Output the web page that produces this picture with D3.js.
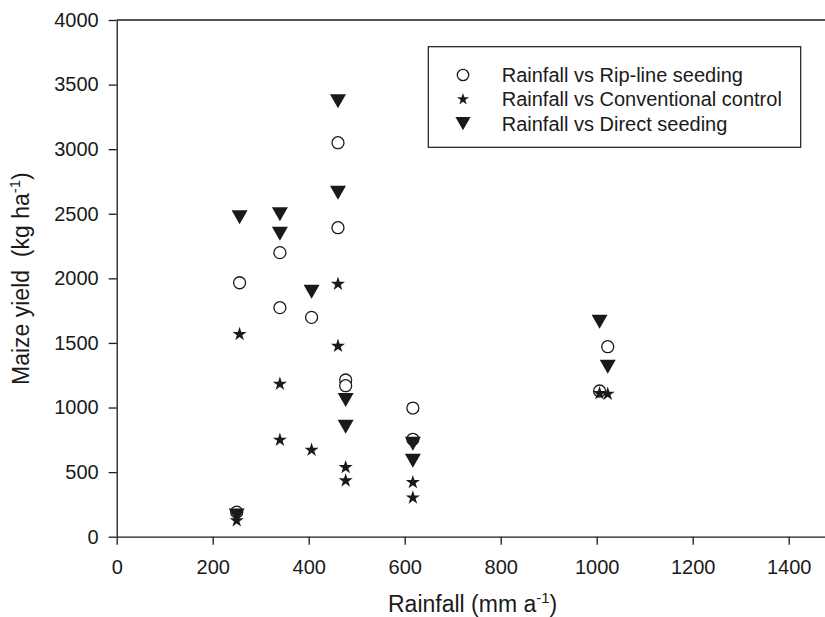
<!DOCTYPE html>
<html>
<head>
<meta charset="utf-8">
<script src="https://cdn.jsdelivr.net/npm/d3@7"></script>
<style>
  body { margin: 0; background: #fff; }
  svg { display: block; font-family: "Liberation Sans", Arial, Helvetica, sans-serif; }
</style>
</head>
<body>
<svg id="chart" width="825" height="617"></svg>
<script>
// rainfall (mm a-1) at each site-season, shared by the three treatments
const rainfall = [250, 256, 340, 340, 406, 461, 461, 477, 477, 617, 617, 1006, 1023];
// maize yield (kg ha-1)
const ripLine      = [190, 1966, 2199, 1773, 1698, 3050, 2392, 1213, 1169, 996, 754, 1128, 1471];
const conventional = [125, 1567, 1182, 749, 671, 1956, 1476, 537, 434, 421, 302, 1110, 1105];
const direct       = [165, 2473, 2496, 2346, 1897, 3371, 2663, 1058, 852, 720, 588, 1664, 1316];

const xTicks = [0, 200, 400, 600, 800, 1000, 1200, 1400];
const yTicks = [0, 500, 1000, 1500, 2000, 2500, 3000, 3500, 4000];

const series = [
  {name: 'Rainfall vs Rip-line seeding', values: ripLine, shape: 'circle'},
  {name: 'Rainfall vs Conventional control', values: conventional, shape: 'star'},
  {name: 'Rainfall vs Direct seeding', values: direct, shape: 'triangle'},
];

const svg = d3.select('#chart');
const W = 825;
const ink = '#1a1a1a';

const x = d3.scaleLinear().domain([0, 1500]).range([116.7, 836.7]);
const y = d3.scaleLinear().domain([0, 4000]).range([536.7, 20]);

// marker drawing
function drawMarker(g, shape, s) {
  if (shape === 'circle') {
    g.append('circle').attr('r', 6 * s)
      .attr('fill', '#fff').attr('stroke', ink).attr('stroke-width', 1.3);
  } else if (shape === 'star') {
    g.append('path')
      .attr('d', d3.symbol().type(d3.symbolStar).size(62 * s * s)())
      .attr('fill', ink);
  } else {
    const w = 8 * s, h = 7 * s;
    g.append('path')
      .attr('d', `M${-w},${-h}L${w},${-h}L0,${h}Z`)
      .attr('fill', ink);
  }
}

// axes
const fmt = d3.format('d');
const xAxis = d3.axisBottom(x).tickValues(xTicks).tickFormat(fmt)
  .tickSize(8).tickSizeOuter(0).tickPadding(15);
const yAxis = d3.axisLeft(y).tickValues(yTicks).tickFormat(fmt)
  .tickSize(8).tickSizeOuter(0).tickPadding(10);

const gx = svg.append('g').attr('transform', `translate(0,${y(0)})`).call(xAxis);
const gy = svg.append('g').attr('transform', `translate(${x(0)},0)`).call(yAxis);

[gx, gy].forEach(g => {
  g.select('.domain').attr('stroke', ink).attr('stroke-width', 1.3);
  g.selectAll('.tick line').attr('stroke', ink).attr('stroke-width', 1.3);
  g.selectAll('.tick text').attr('fill', ink).attr('font-size', 20)
    .attr('font-family', '"Liberation Sans", Arial, sans-serif');
});

// top frame line
svg.append('line')
  .attr('x1', x(0)).attr('x2', W)
  .attr('y1', y(4000)).attr('y2', y(4000))
  .attr('stroke', ink).attr('stroke-width', 1.3);

// axis titles
const xt = svg.append('text')
  .attr('x', 388).attr('y', 611.5)
  .attr('font-size', 23).attr('fill', ink);
xt.append('tspan').text('Rainfall (mm a');
xt.append('tspan').text('-1').attr('font-size', 15).attr('dy', -9);
xt.append('tspan').text(')').attr('dy', 9);

const yt = svg.append('text')
  .attr('transform', 'translate(28.5,385) rotate(-90)')
  .attr('font-size', 23).attr('fill', ink)
  .attr('xml:space', 'preserve');
yt.append('tspan').text('Maize yield  (kg ha');
yt.append('tspan').text('-1').attr('font-size', 15).attr('dy', -9);
yt.append('tspan').text(')').attr('dy', 9);

// points: open circles underneath, then stars, then triangles
series.forEach(s => {
  svg.append('g').selectAll('g')
    .data(s.values.map((v, i) => ({rain: rainfall[i], yield: v})))
    .join('g')
      .attr('transform', d => `translate(${x(d.rain)},${y(d.yield)})`)
      .each(function() { drawMarker(d3.select(this), s.shape, 1); });
});

// legend
const legend = svg.append('g');
legend.append('rect')
  .attr('x', 428.3).attr('y', 46.7)
  .attr('width', 372.4).attr('height', 100.6)
  .attr('fill', '#fff').attr('stroke', ink).attr('stroke-width', 1.2);

series.forEach((s, i) => {
  const row = legend.append('g').attr('transform', `translate(0,${75 + i * 24.3})`);
  const m = row.append('g').attr('transform', 'translate(463,0)');
  drawMarker(m, s.shape, s.shape === 'star' ? 0.85 : 0.95);
  row.append('text')
    .attr('x', 501.7).attr('y', 7)
    .attr('font-size', 20).attr('fill', ink)
    .text(s.name);
});
</script>
</body>
</html>
